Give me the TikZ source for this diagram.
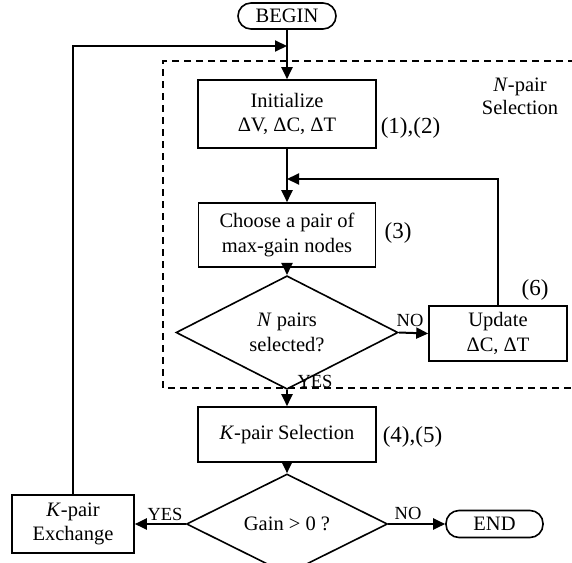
\documentclass[tikz,border=0pt]{standalone}
\usepackage{fontspec}
\setmainfont{Liberation Serif}
\usetikzlibrary{shapes.geometric,arrows.meta}
\begin{document}
\begin{tikzpicture}[x=1pt,y=-1pt,
  box/.style={draw,line width=1.6pt,inner sep=0pt,align=center,font=\fontsize{20.5}{24.5}\selectfont},
  dec/.style={draw,diamond,line width=1.6pt,inner sep=0pt,align=center,font=\fontsize{20.5}{24.5}\selectfont},
  term/.style={draw,line width=1.6pt,rounded corners=13pt,inner sep=0pt,font=\fontsize{20.5}{24}\selectfont},
  conn/.style={line width=2pt,-{Triangle[length=12pt,width=11pt]}},
  lbl/.style={font=\fontsize{18.5}{20}\selectfont,inner sep=0pt},
  eq/.style={font=\fontsize{23}{24}\selectfont,inner sep=0pt,align=center}
]
\useasboundingbox (0,0) rectangle (572,562);
% dashed region
\draw[line width=1.4pt,dash pattern=on 7pt off 5pt] (575,61) -- (163,61) -- (163,388) -- (575,388);
% nodes
\node[term,minimum width=98pt,minimum height=26pt] (begin) at (287,16) {BEGIN};
\node[box,minimum width=178pt,minimum height=68pt] (init) at (287,114) {Initialize\\ΔV, ΔC, ΔT};
\node[box,minimum width=177pt,minimum height=64pt] (choose) at (287,235) {Choose a pair of\\max-gain nodes};
\node[dec,minimum width=222pt,minimum height=69pt] (npairs) at (287,332.5) {\textit{N} pairs\\selected?};
\node[box,minimum width=138pt,minimum height=55pt] (update) at (498,333.5) {Update\\ΔC, ΔT};
\node[box,minimum width=178pt,minimum height=55pt] (ksel) at (287,434.5) {\textit{K}-pair Selection};
\node[dec,minimum width=201pt,minimum height=68pt] (gain) at (287,524) {Gain > 0 ?};
\node[term,minimum width=97pt,minimum height=27pt] (end) at (494.5,524) {END};
\node[box,minimum width=122pt,minimum height=58pt] (kex) at (73,524) {\textit{K}-pair\\Exchange};
% labels
\node[eq] (l12) at (410.5,128) {(1),(2)};
\node[eq] (l3) at (398,233) {(3)};
\node[eq] (l6) at (535,290) {(6)};
\node[eq] (l45) at (412.5,437) {(4),(5)};
\node[font=\fontsize{20.5}{23}\selectfont,align=center,inner sep=0pt] (nsel) at (520,96.5) {\textit{N}-pair\\Selection};
% coordinates
\coordinate (topc) at (287,46);
\coordinate (midc) at (287,179);
% connectors
\draw[conn] (begin.south) -- (init.north);
\draw[conn] (init.south) -- (choose.north);
\draw[conn] (choose.south) -- (npairs.north);
\draw[conn] (npairs.east) -- (update.west);
\node[lbl] (no1) at (410,320) {NO};
\draw[conn] (npairs.south) -- (ksel.north);
\node[lbl] (yes1) at (315,381) {YES};
\draw[conn] (ksel.south) -- (gain.north);
\draw[conn] (gain.east) -- (end.west);
\node[lbl] (no2) at (408,513) {NO};
\draw[conn] (gain.west) -- (kex.east);
\node[lbl] (yes2) at (165,514) {YES};
\draw[conn] (update.north) |- (midc);
\draw[conn] (kex.north) |- (topc);
\end{tikzpicture}
\end{document}
